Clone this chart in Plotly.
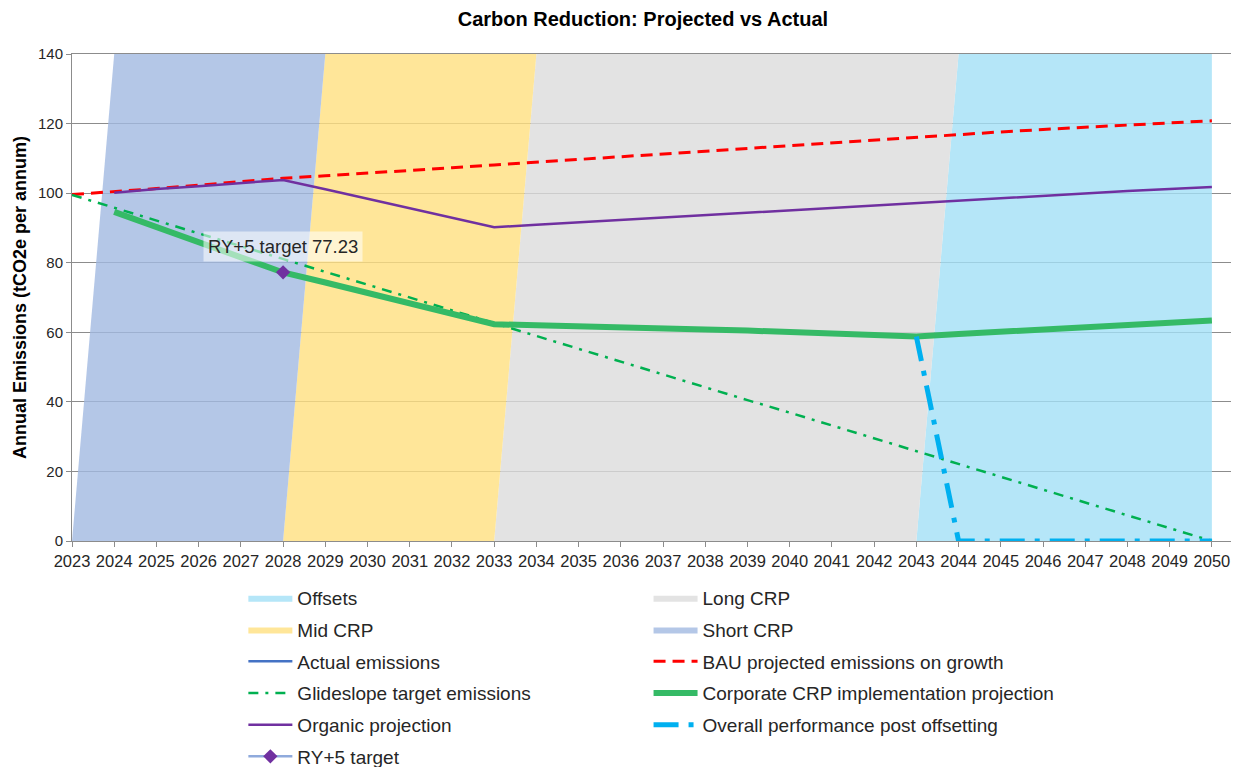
import plotly.graph_objects as go

years = list(range(2023, 2051))
tick_labels = [str(y) for y in years]

# shaded phases: (name, start year, end year)
band_names = ["Offsets", "Long CRP", "Mid CRP", "Short CRP"]
band_start = [2043, 2033, 2028, 2023]
band_end = [2050, 2043, 2033, 2028]
band_top = 140

bau = [99.6, 100.4, 101.3, 102.3, 103.3, 104.3, 105.0, 105.7, 106.5, 107.3,
       108.1, 108.9, 109.7, 110.5, 111.3, 112.1, 112.9, 113.7, 114.6, 115.4,
       116.2, 116.9, 117.6, 118.3, 119.0, 119.6, 120.2, 120.8]
glideslope = [99.5, 95.8, 92.1, 88.4, 84.8, 81.1, 77.4, 73.7, 70.0, 66.3,
              62.7, 59.0, 55.3, 51.6, 47.9, 44.2, 40.5, 36.9, 33.2, 29.5,
              25.8, 22.1, 18.4, 14.7, 11.1, 7.4, 3.7, 0.0]
corporate = [None, 94.6, 90.2, 85.8, 81.5, 77.2, 74.3, 71.3, 68.2, 65.2,
             62.3, 62.0, 61.8, 61.5, 61.2, 60.8, 60.5, 60.1, 59.7, 59.2,
             58.8, 59.5, 60.2, 60.8, 61.5, 62.2, 62.7, 63.4]
organic = [None, 100.1, 101.2, 102.0, 102.9, 103.8, 101.1, 98.4, 95.7, 92.9,
           90.2, 90.9, 91.6, 92.3, 93.0, 93.7, 94.4, 95.1, 95.8, 96.4,
           97.1, 97.8, 98.5, 99.2, 99.9, 100.6, 101.2, 101.8]
overall = [None] * 20 + [58.8, 0, 0, 0, 0, 0, 0, 0]
actual = [None] * 28
ry5_year = [2028]
ry5_value = [77.23]

band_fill = {"Offsets": "rgba(163,224,246,0.8)", "Long CRP": "rgba(220,220,220,0.8)",
             "Mid CRP": "rgba(255,224,128,0.8)", "Short CRP": "rgba(161,185,225,0.8)"}
band_legend = {"Offsets": "legend", "Long CRP": "legend2", "Mid CRP": "legend", "Short CRP": "legend2"}

fig = go.Figure()
for name in ["Offsets", "Long CRP", "Mid CRP", "Short CRP"]:
    i = band_names.index(name)
    s, e = band_start[i], band_end[i]
    fig.add_trace(go.Scatter(
        x=[s, min(s + 1, 2050), min(e + 1, 2050), e], y=[0, band_top, band_top, 0],
        mode="lines", fill="toself", fillcolor=band_fill[name], line=dict(width=0),
        name=name, legend=band_legend[name], legendgroup=name, hoverinfo="skip"))

fig.add_trace(go.Scatter(x=years, y=actual, mode="lines", name="Actual emissions",
                         line=dict(color="#4472C4", width=2.5), legend="legend", legendgroup="a"))
fig.add_trace(go.Scatter(x=years, y=bau, mode="lines", name="BAU projected emissions on growth",
                         line=dict(color="#FF0000", width=3, dash="12px,7px"), legend="legend2", legendgroup="b"))
fig.add_trace(go.Scatter(x=years, y=glideslope, mode="lines", name="Glideslope target emissions",
                         line=dict(color="#00B050", width=2.5, dash="10px,7px,3px,7px"), legend="legend", legendgroup="g"))
fig.add_trace(go.Scatter(x=years, y=corporate, mode="lines", name="Corporate CRP implementation projection",
                         line=dict(color="#35BA66", width=6), legend="legend2", legendgroup="c"))
fig.add_trace(go.Scatter(x=years, y=organic, mode="lines", name="Organic projection",
                         line=dict(color="#7030A0", width=2.5), legend="legend", legendgroup="o"))
fig.add_trace(go.Scatter(x=years, y=overall, mode="lines", name="Overall performance post offsetting",
                         line=dict(color="#00B0F0", width=5, dash="longdashdot"), legend="legend2", legendgroup="p"))
fig.add_trace(go.Scatter(x=ry5_year, y=ry5_value, mode="lines+markers", name="RY+5 target",
                         line=dict(color="#8FAADC", width=2.5),
                         marker=dict(symbol="diamond", size=11, color="#7030A0"),
                         legend="legend", legendgroup="r"))

fig.add_annotation(x=ry5_year[0], y=ry5_value[0], text=f"RY+5 target {ry5_value[0]}",
                   showarrow=False, yshift=26, bgcolor="rgba(255,255,255,0.55)", borderpad=4,
                   font=dict(family="Arial, Liberation Sans", size=18.5, color="#262626"))

font = "Arial, Liberation Sans, sans-serif"
legend_common = dict(orientation="v", traceorder="grouped", tracegroupgap=4,
                     font=dict(family=font, size=19, color="#262626"),
                     bgcolor="rgba(0,0,0,0)", xanchor="left", yanchor="top", itemwidth=44)
fig.update_layout(
    width=1231, height=759,
    margin=dict(l=64, r=6, t=46, b=226, autoexpand=False),
    paper_bgcolor="white", plot_bgcolor="white",
    font=dict(family=font, color="#262626"),
    title=dict(text="<b>Carbon Reduction: Projected vs Actual</b>", x=0.4918, xref="paper",
               xanchor="center", y=0.986, yanchor="middle",
               font=dict(family=font, size=20, color="#000000")),
    legend=dict(x=0.1476, y=-0.078, **legend_common),
    legend2=dict(x=0.4966, y=-0.078, **legend_common),
    showlegend=True,
)
fig.update_xaxes(range=[2023, 2050.5], tickvals=years, ticktext=tick_labels,
                 showgrid=False, showline=True, linecolor="#8c8c8c", linewidth=1, mirror=True,
                 ticks="outside", ticklen=5, tickcolor="#8c8c8c", automargin=False,
                 tickfont=dict(family=font, size=16.5, color="#262626"), zeroline=False)
fig.update_yaxes(range=[0, 140], dtick=20, showgrid=True, gridcolor="#8c8c8c", gridwidth=1,
                 showline=True, linecolor="#8c8c8c", linewidth=1, mirror=True,
                 ticks="outside", ticklen=5, tickcolor="#8c8c8c", automargin=False,
                 tickfont=dict(family=font, size=15, color="#262626"), zeroline=False,
                 title=dict(text="<b>Annual Emissions (tCO2e per annum)</b>", standoff=6,
                            font=dict(family=font, size=18, color="#000000")))
fig.write_html("out.html")
